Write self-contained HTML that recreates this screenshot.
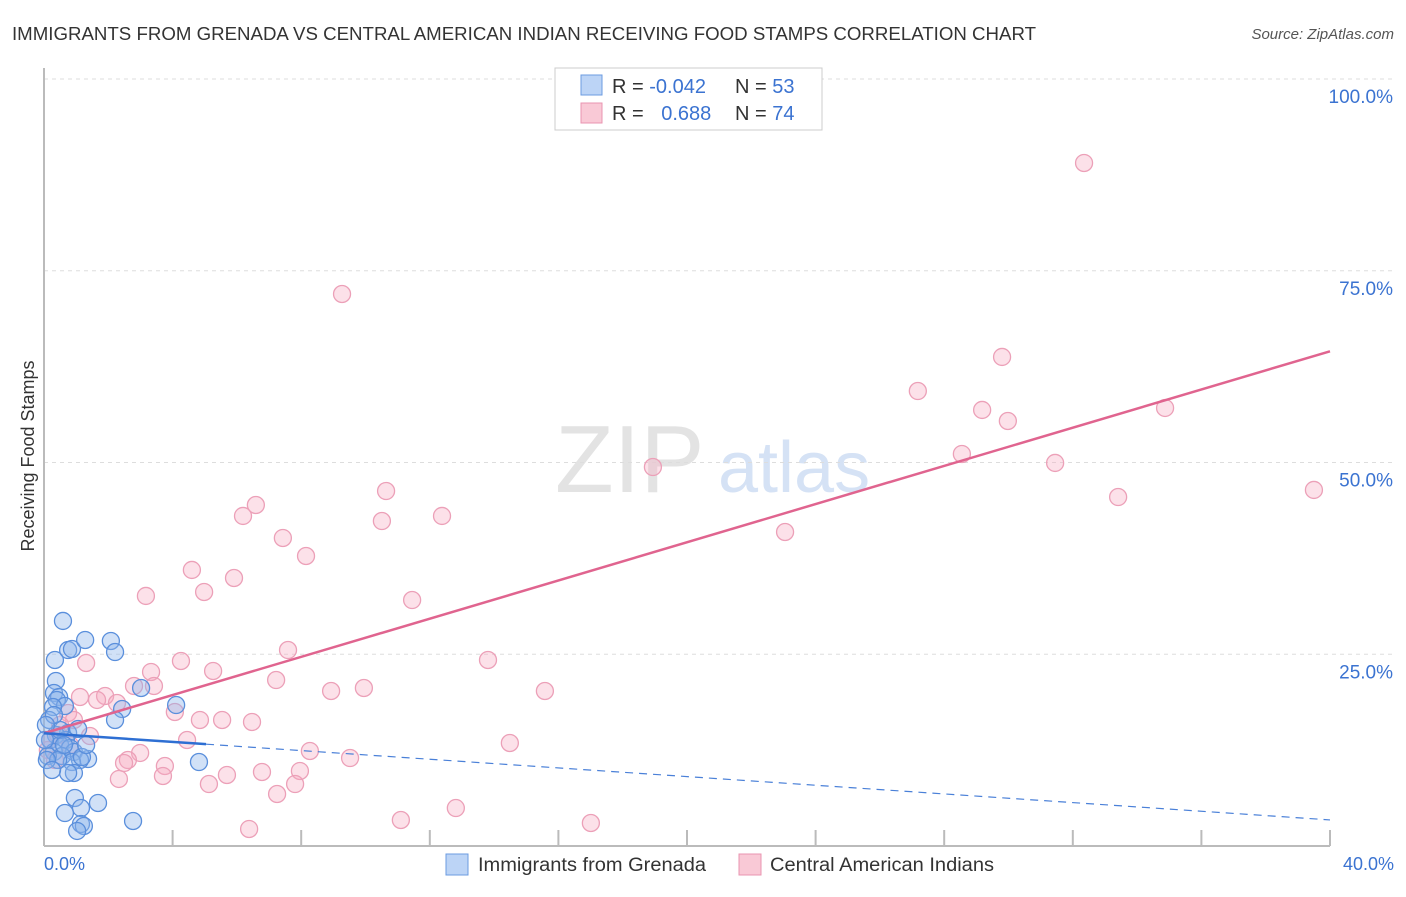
<!DOCTYPE html>
<html><head><meta charset="utf-8"><style>
body{margin:0;background:#fff;font-family:"Liberation Sans",sans-serif;}
svg text{font-family:"Liberation Sans",sans-serif;}
</style></head><body>
<svg width="1406" height="892">
<text x="12" y="40" font-size="18" fill="#333" textLength="1024" lengthAdjust="spacingAndGlyphs">IMMIGRANTS FROM GRENADA VS CENTRAL AMERICAN INDIAN RECEIVING FOOD STAMPS CORRELATION CHART</text>
<text x="1394" y="39" font-size="15" fill="#555" text-anchor="end" font-style="italic">Source: ZipAtlas.com</text>
<text x="555" y="492" font-size="96" fill="#e3e3e3" font-family="Liberation Serif,serif">ZIP</text>
<text x="718" y="492" font-size="72" fill="#d5e2f5">atlas</text>
<g id="grid"></g><g id="pts"></g><g id="lines"></g>
<text transform="translate(34,456) rotate(-90)" font-size="18" fill="#333" text-anchor="middle">Receiving Food Stamps</text>
<text x="44" y="870" font-size="18" fill="#3b73d1">0.0%</text>
<text x="1394" y="870" font-size="18" fill="#3b73d1" text-anchor="end">40.0%</text>
<rect x="555" y="68" width="267" height="62" fill="#fff" stroke="#ccc"/>
<rect x="581" y="75" width="21" height="20" fill="#bcd4f6" stroke="#6b9be0"/>
<rect x="581" y="103" width="21" height="20" fill="#f9c9d6" stroke="#e994b0"/>
<text x="612" y="93" font-size="20" fill="#333">R = <tspan fill="#3b73d1">-0.042</tspan></text>
<text x="735" y="93" font-size="20" fill="#333">N = <tspan fill="#3b73d1">53</tspan></text>
<text x="612" y="120" font-size="20" fill="#333">R = <tspan fill="#3b73d1" dx="12">0.688</tspan></text>
<text x="735" y="120" font-size="20" fill="#333">N = <tspan fill="#3b73d1">74</tspan></text>
<rect x="446" y="854" width="22" height="21" fill="#bcd4f6" stroke="#6b9be0"/>
<text x="478" y="871" font-size="19" fill="#333" textLength="228" lengthAdjust="spacingAndGlyphs">Immigrants from Grenada</text>
<rect x="739" y="854" width="22" height="21" fill="#f9c9d6" stroke="#e994b0"/>
<text x="770" y="871" font-size="19" fill="#333" textLength="224" lengthAdjust="spacingAndGlyphs">Central American Indians</text>
</svg>
<script>
const yTicks=[25,50,75,100];
const yTickLabels=["25.0%","50.0%","75.0%","100.0%"];
const xTicks=[0,4,8,12,16,20,24,28,32,36,40];
const blueX=[0.59,0.34,0.75,0.87,1.28,2.08,2.21,0.37,0.31,0.47,0.40,3.02,0.65,0.28,2.43,4.11,0.16,2.21,0.75,1.06,0.37,0.19,0.68,0.50,0.81,0.93,0.31,0.56,0.12,1.37,1.12,0.87,0.44,1.18,0.50,0.93,0.75,4.82,0.96,1.68,1.15,0.65,1.15,1.24,2.77,1.03,0.31,0.06,0.03,0.09,0.25,0.62,1.31];
const blueY=[29.34,24.25,25.55,25.68,26.86,26.73,25.29,21.51,19.95,19.43,19.04,20.60,18.25,18.12,17.86,18.38,16.43,16.43,14.73,15.25,14.47,13.82,13.82,13.17,12.78,12.26,12.26,11.73,11.73,11.34,11.21,10.95,11.21,11.60,15.12,9.52,9.52,10.95,6.26,5.61,4.95,4.30,2.87,2.61,3.26,1.96,17.08,15.78,13.82,11.21,9.91,13.17,13.17];
const pinkX=[32.35,9.27,29.80,27.18,29.18,29.98,34.87,28.55,31.45,18.94,33.41,39.50,23.05,10.64,6.59,6.19,10.51,12.38,7.43,8.15,4.60,5.91,4.98,3.17,11.45,7.59,13.81,1.31,4.26,3.33,5.26,7.22,3.42,2.80,8.93,9.95,15.58,1.12,1.90,1.65,2.27,4.07,4.85,5.54,6.47,0.75,0.93,1.43,4.45,2.99,8.27,9.52,14.49,2.61,2.49,3.76,3.70,5.69,6.78,7.96,2.33,5.13,7.81,7.25,11.10,12.81,17.01,6.38,0.19,0.34,0.50,0.12,0.81,0.44];
const pinkY=[89.05,71.97,63.76,59.32,56.85,55.41,57.11,51.11,49.94,49.41,45.50,46.42,40.94,46.28,44.46,43.03,42.37,43.03,40.16,37.81,35.99,34.94,33.12,32.60,32.07,25.55,24.25,23.86,24.12,22.69,22.82,21.64,20.86,20.86,20.21,20.60,20.21,19.43,19.56,19.04,18.64,17.47,16.43,16.43,16.17,17.34,16.43,14.34,13.82,12.13,12.39,11.47,13.43,11.21,10.82,10.43,9.13,9.26,9.65,9.78,8.74,8.08,8.08,6.78,3.39,4.95,3.00,2.22,13.82,11.21,15.78,12.52,13.17,14.47];
const pinkTrend=[14.7,64.5];
const blueTrend=[14.7,3.4];
const blueSolidEnd=5.04;
const X=v=>44+v/40*1286, Y=v=>846-v/100*767;
const NS="http://www.w3.org/2000/svg";
function mk(t,a,p){const e=document.createElementNS(NS,t);for(const k in a)e.setAttribute(k,a[k]);p.appendChild(e);return e;}
const g=document.getElementById('grid');
yTicks.forEach((t,i)=>{
 const l=mk('line',{x1:44,x2:1394,y1:Y(t),y2:Y(t),stroke:'#ddd','stroke-dasharray':'4 4'},g);
 
 
 const tx=mk('text',{x:1393,y:Y(t)+24,'font-size':19,fill:'#3b73d1','text-anchor':'end'},g);
 tx.textContent=yTickLabels[i];
 
 
});
xTicks.forEach(t=>{
 const l=mk('line',{x1:X(t),x2:X(t),y1:830,y2:846,stroke:'#bbb','stroke-width':2},g);
 
 
});
let a=mk('line',{x1:44,x2:44,y1:68,y2:846,stroke:'#bbb','stroke-width':2},g);


a=mk('line',{x1:44,x2:1330,y1:846,y2:846,stroke:'#bbb','stroke-width':2},g);


const P=document.getElementById('pts');
pinkX.forEach((x,i)=>{
 const c=mk('circle',{cx:X(x),cy:Y(pinkY[i]),r:8.5,fill:'rgba(246,170,192,0.35)',stroke:'#eca0b8','stroke-width':1.3},P);
 
 
});
blueX.forEach((x,i)=>{
 const c=mk('circle',{cx:X(x),cy:Y(blueY[i]),r:8.5,fill:'rgba(140,180,235,0.4)',stroke:'#5a8fdc','stroke-width':1.3},P);
 
 
});
const L=document.getElementById('lines');
let t=mk('line',{x1:X(0),y1:Y(pinkTrend[0]),x2:X(40),y2:Y(pinkTrend[1]),stroke:'#e0648f','stroke-width':2.5},L);


const by=v=>blueTrend[0]+(blueTrend[1]-blueTrend[0])*v/40;
t=mk('line',{x1:X(0),y1:Y(by(0)),x2:X(blueSolidEnd),y2:Y(by(blueSolidEnd)),stroke:'#2e6fd3','stroke-width':2.5},L);


t=mk('line',{x1:X(blueSolidEnd),y1:Y(by(blueSolidEnd)),x2:X(40),y2:Y(by(40)),stroke:'#4a80d8','stroke-width':1.2,'stroke-dasharray':'8 6'},L);


</script>
</body></html>
